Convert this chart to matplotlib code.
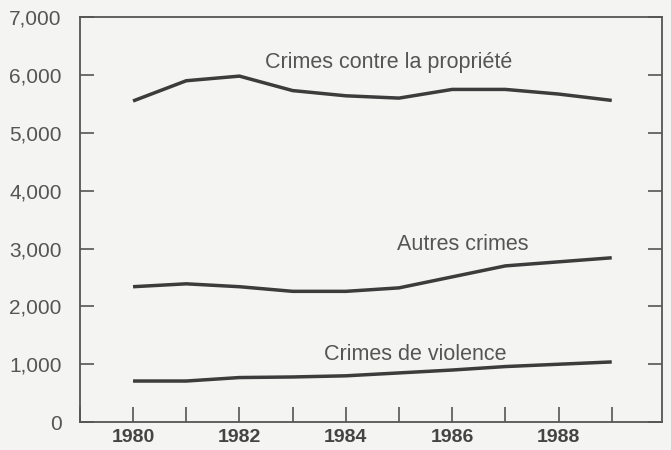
import matplotlib.pyplot as plt
from matplotlib.ticker import MultipleLocator, FuncFormatter

years = [1980, 1981, 1982, 1983, 1984, 1985, 1986, 1987, 1988, 1989]
propriete = [5550, 5900, 5980, 5730, 5640, 5600, 5750, 5750, 5670, 5560]
autres = [2340, 2390, 2340, 2260, 2260, 2320, 2510, 2700, 2770, 2840]
violence = [710, 710, 770, 780, 800, 850, 900, 960, 1000, 1040]

series_labels = ['Crimes contre la propriété', 'Autres crimes', 'Crimes de violence']

bg = '#f4f4f2'
ink = '#3c3c3c'
txt = '#555555'

plt.rcParams['font.family'] = ['Liberation Sans', 'DejaVu Sans']

fig = plt.figure(figsize=(6.71, 4.5), dpi=100, facecolor=bg)
ax = fig.add_axes([0.119, 0.062, 0.868, 0.900], facecolor=bg)

for vals in (propriete, autres, violence):
    ax.plot(years, vals, color=ink, lw=2.5, solid_capstyle='butt',
            solid_joinstyle='round')

ax.set_xlim(1979, 1989.95)
ax.set_ylim(0, 7000)

ax.xaxis.set_major_locator(MultipleLocator(2))
ax.xaxis.set_minor_locator(MultipleLocator(1))
ax.yaxis.set_major_locator(MultipleLocator(1000))
ax.yaxis.set_major_formatter(FuncFormatter(lambda v, p: f'{int(v):,}'))

ax.tick_params(axis='y', direction='in', length=10, width=1.2, color='#555555',
               right=True, labelsize=15, labelcolor=txt, pad=13)
ax.tick_params(axis='x', which='both', direction='in', length=11, width=1.2,
               color='#555555', labelsize=14, labelcolor='#444444', pad=5)
for lab in ax.get_xticklabels():
    lab.set_fontweight('bold')
for s in ax.spines.values():
    s.set_color('#555555')
    s.set_linewidth(1.3)

ax.text(1984.8, 6220, series_labels[0], fontsize=15.5, color=txt, ha='center', va='center')
ax.text(1986.2, 3070, series_labels[1], fontsize=15.5, color=txt, ha='center', va='center')
ax.text(1985.3, 1160, series_labels[2], fontsize=15.5, color=txt, ha='center', va='center')

fig.savefig('out.png', dpi=100, facecolor=bg)
